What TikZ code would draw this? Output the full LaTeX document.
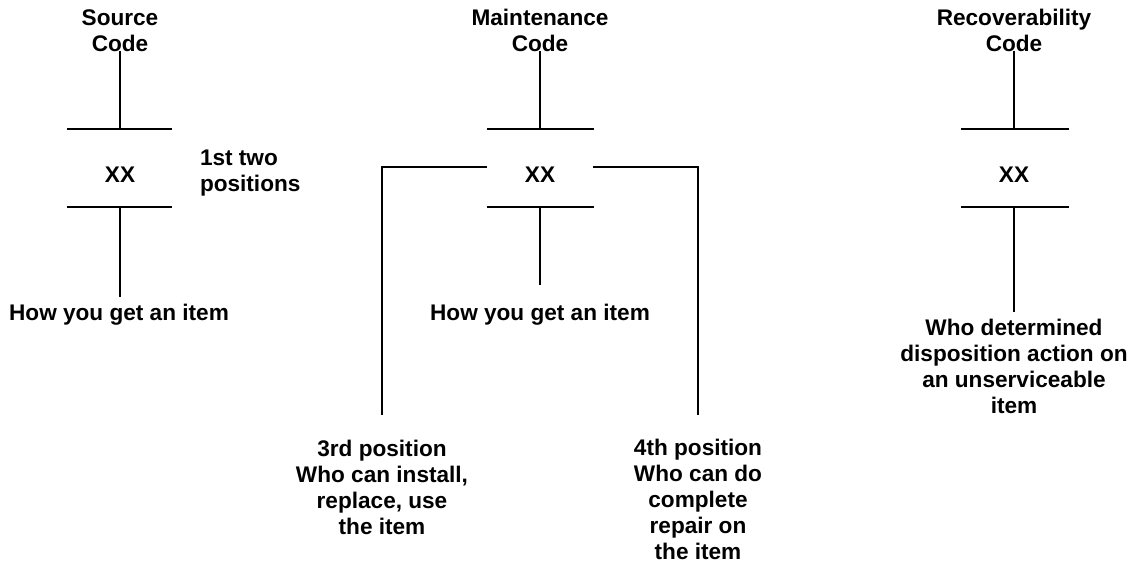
\documentclass[tikz,border=0pt]{standalone}
\usepackage{fontspec}
\setmainfont{Liberation Sans}
\begin{document}
\begin{tikzpicture}[x=1pt,y=-1pt,line width=2pt,
  lbl/.style={font=\fontsize{22.6}{26}\selectfont\bfseries,align=center,inner sep=0pt},
  bar/.style={line width=2pt}]
\useasboundingbox (0,0) rectangle (1136,562);
% ---------- Source code column
\node[lbl] (srct) at (120,30.5) {Source\\Code};
\coordinate (srcs) at (120,51);
\coordinate (srcb1l) at (67,129);
\coordinate (srcb1r) at (172,129);
\coordinate (srcb1m) at (120,129);
\node[lbl] (srcx) at (120,175) {XX};
\coordinate (srcb2l) at (67,207);
\coordinate (srcb2r) at (172,207);
\coordinate (srcb2m) at (120,207);
\coordinate (srce) at (120,297);
\node[lbl] (srcd) at (119,315) {How you get an item};
\node[lbl,anchor=west,align=left] (srcp) at (199,173) {1st two\\positions};
\draw[bar] (srcs) -- (srcb1m);
\draw[bar] (srcb1l) -- (srcb1r);
\draw[bar] (srcb2l) -- (srcb2r);
\draw[bar] (srcb2m) -- (srce);
% ---------- Maintenance code column
\node[lbl] (mnt) at (540,30.5) {Maintenance\\Code};
\coordinate (mns) at (540,51);
\coordinate (mnb1l) at (487,129);
\coordinate (mnb1r) at (594,129);
\coordinate (mnb1m) at (540,129);
\node[lbl] (mnx) at (540,175) {XX};
\coordinate (mnb2l) at (487,207);
\coordinate (mnb2r) at (594,207);
\coordinate (mnb2m) at (540,207);
\coordinate (mne) at (540,285);
\node[lbl] (mnd) at (540,315) {How you get an item};
\draw[bar] (mns) -- (mnb1m);
\draw[bar] (mnb1l) -- (mnb1r);
\draw[bar] (mnb2l) -- (mnb2r);
\draw[bar] (mnb2m) -- (mne);
% brackets to 3rd / 4th position
\coordinate (mnl) at (487,167);
\coordinate (mnle) at (382,415);
\coordinate (mnr) at (593,167);
\coordinate (mnre) at (698,415);
\draw[bar] (mnl) -| (mnle);
\draw[bar] (mnr) -| (mnre);
\node[lbl] (p3) at (382,487) {3rd position\\Who can install,\\replace, use\\the item};
\node[lbl] (p4) at (698,499) {4th position\\Who can do\\complete\\repair on\\the item};
% ---------- Recoverability code column
\node[lbl] (rct) at (1014,30.5) {Recoverability\\Code};
\coordinate (rcs) at (1014,51);
\coordinate (rcb1l) at (961,129);
\coordinate (rcb1r) at (1069,129);
\coordinate (rcb1m) at (1014,129);
\node[lbl] (rcx) at (1014,175) {XX};
\coordinate (rcb2l) at (961,207);
\coordinate (rcb2r) at (1069,207);
\coordinate (rcb2m) at (1014,207);
\coordinate (rce) at (1014,312);
\node[lbl] (rcd) at (1014,366) {Who determined\\disposition action on\\an unserviceable\\item};
\draw[bar] (rcs) -- (rcb1m);
\draw[bar] (rcb1l) -- (rcb1r);
\draw[bar] (rcb2l) -- (rcb2r);
\draw[bar] (rcb2m) -- (rce);
\end{tikzpicture}
\end{document}
